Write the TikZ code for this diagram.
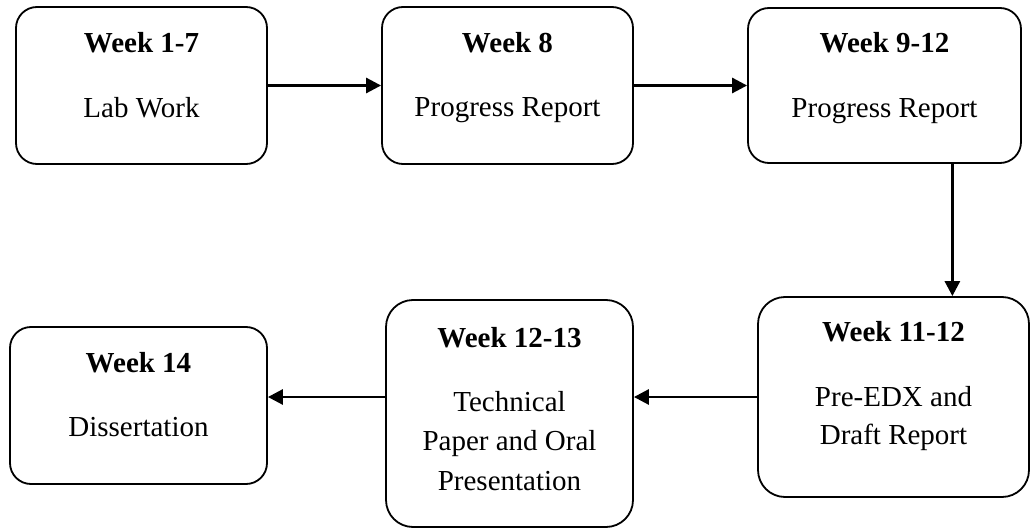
\documentclass[tikz,border=0pt]{standalone}
\usepackage{fontspec}
\setmainfont{Liberation Serif}
\usetikzlibrary{arrows.meta,calc}
\tikzset{
  box/.style={draw, line width=1.8pt, rounded corners=21pt, inner sep=0pt, fill=white},
  bigbox/.style={box, rounded corners=27pt},
  ttl/.style={anchor=base, inner sep=0pt, font=\fontsize{29}{39}\selectfont\bfseries},
  txt/.style={anchor=base, inner sep=0pt, font=\fontsize{29}{39}\selectfont},
  arr/.style={line width=2.8pt, -{Triangle[length=15pt,width=15pt]}}
}
\begin{document}
\begin{tikzpicture}[x=1pt,y=-1pt]
\useasboundingbox (0,0) rectangle (1032,529);
% boxes
\node[box, minimum width=251pt, minimum height=157pt] (b1) at (141.5,85.5) {};
\node[box, minimum width=251pt, minimum height=157pt] (b2) at (507.5,85.5) {};
\node[box, minimum width=273pt, minimum height=155pt] (b3) at (884.5,85.5) {};
\node[bigbox, minimum width=271pt, minimum height=200pt] (b4) at (893.5,397) {};
\node[bigbox, minimum width=247pt, minimum height=227pt] (b5) at (509.5,413.5) {};
\node[box, minimum width=257pt, minimum height=157pt] (b6) at (138.5,405.5) {};
% texts
\node[ttl] (t1) at ($(b1.north)+(0,46)$) {Week 1-7};
\node[txt] (s1) at ($(t1.base)+(0,65)$) {Lab Work};
\node[ttl] (t2) at ($(b2.north)+(0,46)$) {Week 8};
\node[txt] (s2) at ($(t2.base)+(0,64)$) {Progress Report};
\node[ttl] (t3) at ($(b3.north)+(0,45)$) {Week 9-12};
\node[txt] (s3) at ($(t3.base)+(0,65)$) {Progress Report};
\node[ttl] (t4) at ($(b4.north)+(0,45)$) {Week 11-12};
\node[txt] (s4a) at ($(t4.base)+(0,65)$) {Pre-EDX and};
\node[txt] (s4b) at ($(s4a.base)+(0,38)$) {Draft Report};
\node[ttl] (t5) at ($(b5.north)+(0,48)$) {Week 12-13};
\node[txt] (s5a) at ($(t5.base)+(0,64)$) {Technical};
\node[txt] (s5b) at ($(s5a.base)+(0,39.5)$) {Paper and Oral};
\node[txt] (s5c) at ($(s5b.base)+(0,39.5)$) {Presentation};
\node[ttl] (t6) at ($(b6.north)+(0,46)$) {Week 14};
\node[txt] (s6) at ($(t6.base)+(0,64)$) {Dissertation};
% connectors
\draw[arr] (b1.east) -- (b2.west);
\draw[arr] (b2.east) -- (b3.west);
\coordinate (v) at ($(b3.south west)!0.747!(b3.south east)$);
\draw[arr] (v) -- (v |- b4.north);
\draw[arr] (b4.west) -- (b4.west -| b5.east);
\draw[arr] (b5.west |- b4.west) -- (b6.east |- b4.west);
\end{tikzpicture}
\end{document}
